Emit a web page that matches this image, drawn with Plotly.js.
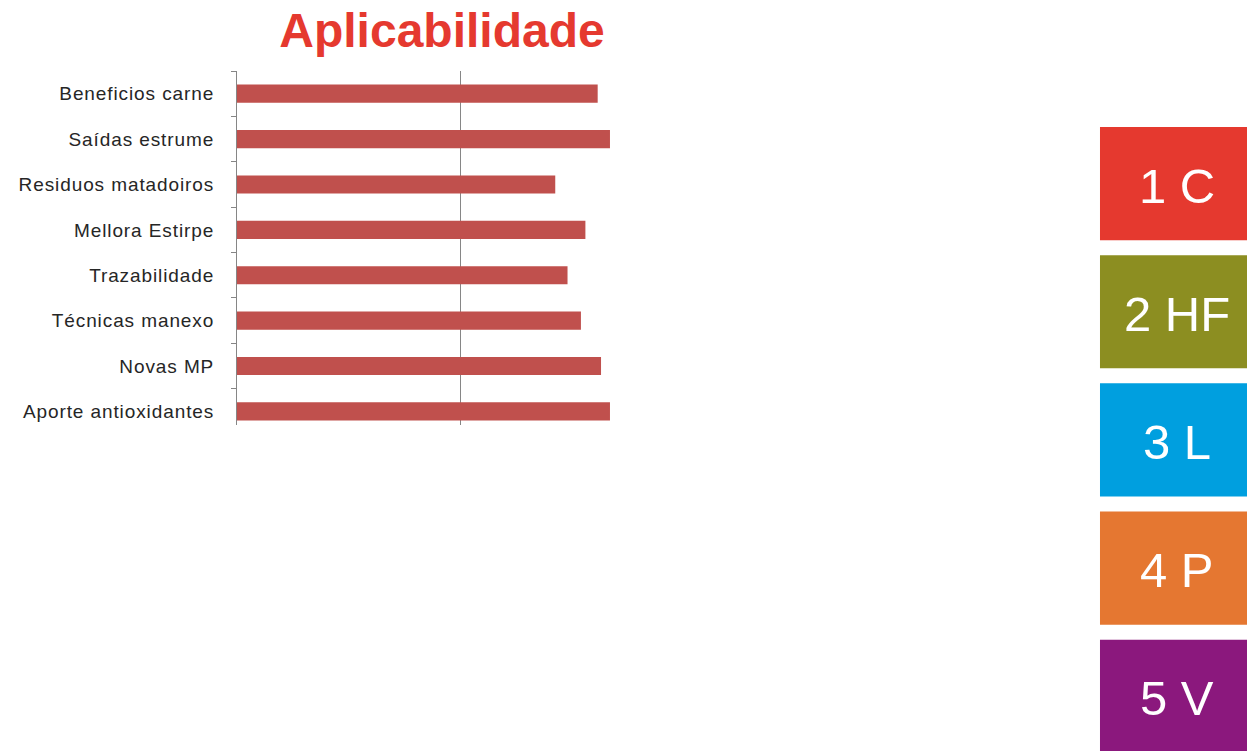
<!DOCTYPE html>
<html>
<head>
<meta charset="utf-8">
<script src="https://cdn.plot.ly/plotly-3.0.1.min.js"></script>
<style>
  html, body { margin: 0; padding: 0; background: #fff; }
  #chart { width: 1247px; height: 751px; }
  .ytick text { letter-spacing: 0.9px; }
</style>
</head>
<body>
<div id="chart"></div>
<script>
// ---- data ----
const categories = [
  "Beneficios carne",
  "Saídas estrume",
  "Residuos matadoiros",
  "Mellora Estirpe",
  "Trazabilidade",
  "Técnicas manexo",
  "Novas MP",
  "Aporte antioxidantes"
];
const values = [3.23, 3.34, 2.85, 3.12, 2.96, 3.08, 3.26, 3.34];
const boxLabels = ["1 C", "2 HF", "3 L", "4 P", "5 V"];
const boxColors = ["#E5392F", "#8C8E21", "#009FDF", "#E57731", "#8B187D"];

// ---- layout geometry (pixels) ----
const W = 1247, H = 751;
const ml = 237.3, mt = 70.7, plotRight = 638.7, plotBottom = 425;
const pw = plotRight - ml, ph = plotBottom - mt;
const px2x = p => (p - ml) / pw;
const px2y = p => (plotBottom - p) / ph;

const shapes = [];
const annotations = [];
boxLabels.forEach((lab, i) => {
  const top = 126.7 + i * 128.3;
  const bot = top + 113.3;
  shapes.push({
    type: "rect", xref: "paper", yref: "paper",
    x0: px2x(1099), x1: px2x(1260), y0: px2y(bot), y1: px2y(top),
    fillcolor: boxColors[i], line: { width: 0 }, layer: "above"
  });
  annotations.push({
    xref: "paper", yref: "paper", x: px2x(1176), y: px2y((top + bot) / 2 + 2),
    xanchor: "center", yanchor: "middle", showarrow: false, text: lab,
    font: { family: "Liberation Sans, Arial, sans-serif", size: 49, color: "#ffffff" }
  });
});

const trace = {
  type: "bar", orientation: "h",
  y: categories, x: values,
  width: 0.4,
  marker: { color: "#C0504D", line: { width: 0 } },
  hoverinfo: "skip"
};

const layout = {
  width: W, height: H,
  margin: { l: ml, r: W - plotRight, t: mt, b: H - plotBottom, pad: 0 },
  paper_bgcolor: "#ffffff", plot_bgcolor: "#ffffff",
  showlegend: false,
  title: {
    text: "Aplicabilidade",
    font: { family: "Liberation Sans, Arial, sans-serif", size: 48, color: "#E5392F", weight: "bold" },
    xref: "paper", x: px2x(442), xanchor: "center",
    yref: "container", y: 1 - 30 / H, yanchor: "middle"
  },
  xaxis: {
    range: [0, 3.6], tick0: 0, dtick: 2,
    showgrid: true, gridcolor: "#868686", gridwidth: 1,
    zeroline: false, showline: false, showticklabels: false, ticks: "",
    fixedrange: true
  },
  yaxis: {
    type: "category", range: [7.3, -0.5],
    showline: true, linecolor: "#868686", linewidth: 1,
    ticks: "outside", ticklen: 5, tickcolor: "#868686", tickson: "boundaries",
    showgrid: false, zeroline: false,
    ticklabelstandoff: 18,
    tickfont: { family: "Liberation Sans, Arial, sans-serif", size: 19, color: "#262626" },
    automargin: false, fixedrange: true
  },
  shapes: shapes,
  annotations: annotations
};

Plotly.newPlot("chart", [trace], layout, { staticPlot: true, displayModeBar: false });
</script>
</body>
</html>
